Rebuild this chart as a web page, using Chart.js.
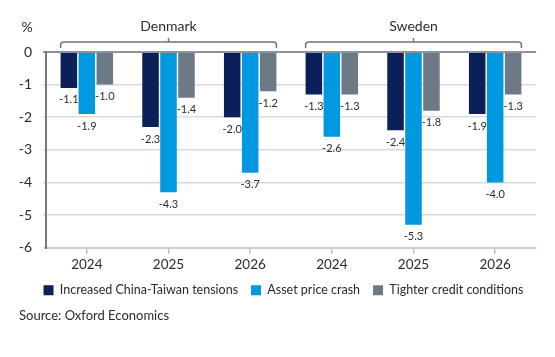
<!DOCTYPE html>
<html>
<head>
<meta charset="utf-8">
<script src="https://cdn.jsdelivr.net/npm/chart.js@4/dist/chart.umd.min.js"></script>
<style>
  html, body { margin: 0; padding: 0; background: #ffffff; }
  #wrap { width: 555px; height: 357px; position: relative; }
</style>
</head>
<body>
<div id="wrap"><canvas id="c" width="555" height="357"></canvas></div>
<script>
const categories = ['2024', '2025', '2026', '2024', '2025', '2026'];
const groups = [
  { name: 'Denmark', from: 0, to: 2 },
  { name: 'Sweden', from: 3, to: 5 }
];
const seriesNames = ['Increased China-Taiwan tensions', 'Asset price crash', 'Tighter credit conditions'];
const chinaTaiwan = [-1.1, -2.3, -2.0, -1.3, -2.4, -1.9];
const assetCrash  = [-1.9, -4.3, -3.7, -2.6, -5.3, -4.0];
const tighterCredit = [-1.0, -1.4, -1.2, -1.3, -1.8, -1.3];
const yTicks = [0, -1, -2, -3, -4, -5, -6];
const unitLabel = '%';
const sourceText = 'Source: Oxford Economics';

const colors = ['#0b1f58', '#0098df', '#6e7987'];
const FONT = 'Lato, "Open Sans", sans-serif';
const TEXT = '#2b2b2b';

const overlay = {
  id: 'overlay',
  afterLayout(chart) {
    const lg = chart.legend;
    if (lg) { lg.left += 6; lg.right += 6; }
  },
  afterDatasetsDraw(chart) {
    const ctx = chart.ctx;
    const area = chart.chartArea;
    ctx.save();
    ctx.font = '11px ' + FONT;
    ctx.fillStyle = TEXT;
    ctx.textAlign = 'center';
    ctx.textBaseline = 'middle';
    chart.data.datasets.forEach((ds, di) => {
      const meta = chart.getDatasetMeta(di);
      meta.data.forEach((bar, i) => {
        ctx.fillText(ds.data[i].toFixed(1), bar.x, bar.y + 12);
      });
    });
    const first = chart.getDatasetMeta(0);
    const last = chart.getDatasetMeta(chart.data.datasets.length - 1);
    const yLine = area.top - 10;
    ctx.strokeStyle = '#6b7480';
    ctx.lineWidth = 1.5;
    groups.forEach(g => {
      const b0 = first.data[g.from];
      const b1 = last.data[g.to];
      const x0 = b0.x - b0.width / 2;
      const x1 = b1.x + b1.width / 2;
      const xm = (x0 + x1) / 2;
      const r = 3;
      ctx.beginPath();
      ctx.moveTo(x0, yLine + 6);
      ctx.lineTo(x0, yLine + r);
      ctx.quadraticCurveTo(x0, yLine, x0 + r, yLine);
      ctx.lineTo(x1 - r, yLine);
      ctx.quadraticCurveTo(x1, yLine, x1, yLine + r);
      ctx.lineTo(x1, yLine + 6);
      ctx.moveTo(xm, yLine);
      ctx.lineTo(xm, yLine - 4);
      ctx.stroke();
      ctx.font = '14px ' + FONT;
      ctx.fillStyle = TEXT;
      ctx.textAlign = 'center';
      ctx.textBaseline = 'middle';
      ctx.fillText(g.name, xm, area.top - 26);
    });
    ctx.font = '14px ' + FONT;
    ctx.textAlign = 'center';
    ctx.fillText(unitLabel, 27, area.top - 25);
    ctx.restore();
  }
};

new Chart(document.getElementById('c'), {
  type: 'bar',
  data: {
    labels: categories,
    datasets: [
      { label: seriesNames[0], data: chinaTaiwan, backgroundColor: colors[0] },
      { label: seriesNames[1], data: assetCrash, backgroundColor: colors[1] },
      { label: seriesNames[2], data: tighterCredit, backgroundColor: colors[2] }
    ]
  },
  options: {
    responsive: false,
    animation: false,
    devicePixelRatio: 1,
    categoryPercentage: 0.66,
    barPercentage: 0.92,
    layout: { padding: { top: 52, right: 19, left: 19, bottom: 33 } },
    scales: {
      x: {
        afterFit(scale) { scale.height -= 5; },
        grid: { display: true, drawOnChartArea: false, drawTicks: true, tickLength: 6, offset: false, color: '#b9c0c8', lineWidth: 1.5 },
        border: { display: true, color: '#c9ced5', width: 2 },
        ticks: { font: { family: FONT, size: 13.5 }, color: TEXT, padding: 3 }
      },
      y: {
        min: -6, max: 0,
        afterFit(scale) { scale.width = 27; },
        afterBuildTicks(scale) { scale.ticks = yTicks.map(v => ({ value: v })); },
        grid: {
          color: ctx => ctx.tick && ctx.tick.value === 0 ? '#8a939e' : '#d6dbe1',
          lineWidth: ctx => ctx.tick && ctx.tick.value === 0 ? 2 : 1.5,
          drawTicks: true, tickLength: 3
        },
        border: { display: true, color: '#6f7a87', width: 2 },
        ticks: { font: { family: FONT, size: 14 }, color: TEXT, padding: 11, callback: v => String(v) }
      }
    },
    plugins: {
      legend: {
        position: 'bottom',
        labels: { boxWidth: 10, boxHeight: 10, padding: 13, font: { family: FONT, size: 12.5 }, color: TEXT }
      },
      title: {
        display: true,
        text: sourceText,
        position: 'bottom',
        align: 'start',
        font: { family: FONT, size: 13, weight: 'normal' },
        color: TEXT,
        padding: { top: 2, bottom: 0 }
      },
      tooltip: { enabled: false }
    }
  },
  plugins: [overlay]
});
</script>
</body>
</html>
